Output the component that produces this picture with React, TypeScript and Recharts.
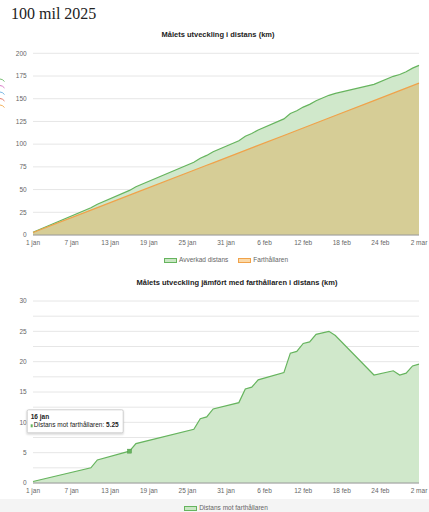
import React from 'react';
import { AreaChart, Area, XAxis, YAxis, CartesianGrid, Legend, Tooltip } from 'recharts';

// ---- data ----
const days = [0, 9, 10, 15, 16, 25, 26, 27, 28, 32, 33, 34, 35, 39, 40, 41, 42, 43, 44, 46, 47, 53, 56, 57, 58, 59, 60];
const dates = ['1 jan', '10 jan', '11 jan', '16 jan', '17 jan', '26 jan', '27 jan', '28 jan', '29 jan', '2 feb', '3 feb', '4 feb', '5 feb', '9 feb', '10 feb', '11 feb', '12 feb', '13 feb', '14 feb', '16 feb', '17 feb', '23 feb', '26 feb', '27 feb', '28 feb', '1 mar', '2 mar'];
const avverkad = [2.99, 29.9, 33.94, 49.09, 53.08, 80.08, 84.57, 87.61, 91.65, 103.66, 108.65, 111.69, 115.63, 127.79, 133.73, 136.77, 140.81, 143.8, 147.79, 153.77, 155.81, 165.75, 174.66, 176.7, 179.74, 183.68, 186.72];
const farthallaren = [2.74, 27.4, 30.14, 43.84, 46.58, 71.23, 73.97, 76.71, 79.45, 90.41, 93.15, 95.89, 98.63, 109.59, 112.33, 115.07, 117.81, 120.55, 123.29, 128.77, 131.51, 147.95, 156.16, 158.9, 161.64, 164.38, 167.12];
const distansMot = [0.25, 2.5, 3.8, 5.25, 6.5, 8.85, 10.6, 10.9, 12.2, 13.25, 15.5, 15.8, 17.0, 18.2, 21.4, 21.7, 23.0, 23.25, 24.5, 25.0, 24.3, 17.8, 18.5, 17.8, 18.1, 19.3, 19.6];

const tickDays = [0, 6, 12, 18, 24, 30, 36, 42, 48, 54, 60];
const tickLabels = ['1 jan', '7 jan', '13 jan', '19 jan', '25 jan', '31 jan', '6 feb', '12 feb', '18 feb', '24 feb', '2 mar'];
const topYTicks = [0, 25, 50, 75, 100, 125, 150, 175, 200];
const bottomYTicks = [0, 2.5, 5, 7.5, 10, 12.5, 15, 17.5, 20, 22.5, 25, 27.5, 30];
const tooltipIndex = 3;

const topData = days.map((d, i) => ({ day: d, date: dates[i], avverkad: avverkad[i], farthallaren: farthallaren[i] }));
const bottomData = days.map((d, i) => ({ day: d, date: dates[i], diff: distansMot[i] }));

// ---- styles ----
const FONT = '"Liberation Sans", Arial, Helvetica, sans-serif';
const GREEN = '#66b45e';
const GREEN_FILL = '#d0e8cb';
const ORANGE = '#f0a24a';
const ORANGE_FILL = '#ddac57';
const TICK = { fontSize: 6.5, fill: '#666', fontFamily: FONT };
const swatch: Record<string, string> = {
  'Avverkad distans': '#c9e6c3',
  'Farthållaren': '#fbd9a8',
  'Distans mot farthållaren': '#c9e6c3',
};

const fmtDay = (v: number) => {
  const i = tickDays.indexOf(v);
  return i >= 0 ? tickLabels[i] : '';
};

const renderLegend = (props: any) => {
  const payload = props.payload || [];
  return (
    <div
      style={{
        height: 20,
        boxSizing: 'border-box',
        paddingTop: 2,
        paddingLeft: 33,
        display: 'flex',
        justifyContent: 'center',
        alignItems: 'center',
        fontFamily: FONT,
        fontSize: 6.5,
        color: '#666',
        lineHeight: '8px',
      }}
    >
      {payload.map((e: any, i: number) => (
        <div key={i} style={{ display: 'flex', alignItems: 'center', marginLeft: i ? 10 : 0 }}>
          <span
            style={{
              display: 'inline-block',
              width: 13,
              height: 5,
              boxSizing: 'border-box',
              background: swatch[e.value] || '#eee',
              border: `1px solid ${e.color}`,
              marginRight: 2,
            }}
          />
          <span>{e.value}</span>
        </div>
      ))}
    </div>
  );
};

const TooltipBox = (props: any) => {
  const { active, payload } = props;
  if (!active || !payload || !payload.length) return null;
  const p = payload[0];
  return (
    <div
      style={{
        background: '#fff',
        border: '1px solid #d0d0d0',
        borderRadius: 2,
        boxShadow: '0 1px 2px rgba(0,0,0,0.12)',
        padding: '3px 4px 3px 3px',
        fontFamily: FONT,
        fontSize: 6.5,
        lineHeight: '8px',
        color: '#222',
        whiteSpace: 'nowrap',
        width: 97,
        boxSizing: 'border-box',
      }}
    >
      <div style={{ fontWeight: 'bold' }}>{p.payload.date}</div>
      <div style={{ display: 'flex', alignItems: 'center' }}>
        <span style={{ display: 'inline-block', width: 3, height: 3, background: GREEN, marginRight: 1 }} />
        <span>
          {p.name}: <b>{p.value}</b>
        </span>
      </div>
    </div>
  );
};

const ActiveSquare = (props: any) => {
  const { cx, cy } = props;
  if (cx == null || cy == null) return null;
  return <rect x={cx - 2} y={cy - 2} width={4} height={4} fill={GREEN} stroke="#4f9a48" strokeWidth={0.5} />;
};

const titleStyle: React.CSSProperties = {
  position: 'absolute',
  width: 300,
  textAlign: 'center',
  fontFamily: FONT,
  fontWeight: 'bold',
  fontSize: 7.5,
  lineHeight: '7.5px',
  color: '#222',
  whiteSpace: 'nowrap',
};

export default function App() {
  return (
    <div style={{ position: 'absolute', left: 0, top: 0, width: 429, height: 512, overflow: 'hidden', background: '#fff' }}>
      <div style={{ position: 'absolute', left: 0, top: 499, width: 429, height: 13, background: '#f4f4f4' }} />
      <div
        style={{
          position: 'absolute',
          left: 11,
          top: 6,
          fontFamily: '"Liberation Serif", "Times New Roman", serif',
          fontSize: 16,
          lineHeight: '16px',
          color: '#222',
          whiteSpace: 'nowrap',
        }}
      >
        100 mil 2025
      </div>
      <svg style={{ position: 'absolute', left: 0, top: 76 }} width={6} height={34}>
        <path d="M0 3 Q2.5 3 4.5 5.5" stroke="#6ab865" strokeWidth={0.9} fill="none" />
        <path d="M0 9.5 Q2.5 9.5 4.5 12" stroke="#d66fc2" strokeWidth={0.9} fill="none" />
        <path d="M0 16 Q2.5 16 4.5 18.5" stroke="#6aaee0" strokeWidth={0.9} fill="none" />
        <path d="M0 22.5 Q2.5 22.5 4.5 25" stroke="#e06a5a" strokeWidth={0.9} fill="none" />
        <path d="M0 29 Q2.5 29 4.5 31.5" stroke="#f0a84a" strokeWidth={0.9} fill="none" />
      </svg>

      <div style={{ ...titleStyle, left: 68, top: 30.5 }}>Målets utveckling i distans (km)</div>
      <div style={{ position: 'absolute', left: 0, top: 40 }}>
        <AreaChart width={429} height={229} data={topData} margin={{ top: 13.3, right: 10, left: 0, bottom: 0 }}>
          <CartesianGrid vertical={false} stroke="#e6e6e6" />
          <XAxis
            dataKey="day"
            type="number"
            domain={[0, 60]}
            ticks={tickDays}
            interval={0}
            tickFormatter={fmtDay}
            axisLine={{ stroke: '#9a9a9a' }}
            tickLine={false}
            tickSize={4}
            tickMargin={1.5}
            height={14}
            tick={TICK}
          />
          <YAxis
            type="number"
            domain={[0, 200]}
            ticks={topYTicks}
            interval={0}
            axisLine={false}
            tickLine={false}
            tickSize={4}
            tickMargin={2.3}
            width={33}
            tick={TICK}
          />
          <Legend verticalAlign="bottom" content={renderLegend} />
          <Area
            type="linear"
            dataKey="avverkad"
            name="Avverkad distans"
            stroke={GREEN}
            strokeWidth={1.2}
            fill={GREEN_FILL}
            fillOpacity={1}
            dot={false}
            activeDot={false}
            isAnimationActive={false}
          />
          <Area
            type="linear"
            dataKey="farthallaren"
            name="Farthållaren"
            stroke={ORANGE}
            strokeWidth={1.2}
            fill={ORANGE_FILL}
            fillOpacity={0.45}
            dot={false}
            activeDot={false}
            isAnimationActive={false}
          />
        </AreaChart>
      </div>

      <div style={{ ...titleStyle, left: 87, top: 278.7 }}>Målets utveckling jämfört med farthållaren i distans (km)</div>
      <div style={{ position: 'absolute', left: 0, top: 290 }}>
        <AreaChart width={429} height={227} data={bottomData} margin={{ top: 11, right: 10, left: 0, bottom: 0 }}>
          <CartesianGrid vertical={false} stroke="#e6e6e6" />
          <XAxis
            dataKey="day"
            type="number"
            domain={[0, 60]}
            ticks={tickDays}
            interval={0}
            tickFormatter={fmtDay}
            axisLine={{ stroke: '#9a9a9a' }}
            tickLine={false}
            tickSize={4}
            tickMargin={1.5}
            height={14}
            tick={TICK}
          />
          <YAxis
            type="number"
            domain={[0, 30]}
            ticks={bottomYTicks}
            interval={0}
            tickFormatter={(v: number) => (v % 5 === 0 ? String(v) : '')}
            axisLine={false}
            tickLine={false}
            tickSize={4}
            tickMargin={2.3}
            width={33}
            tick={TICK}
          />
          <Tooltip
            defaultIndex={tooltipIndex}
            cursor={false}
            position={{ x: 26.7, y: 119.3 }}
            content={<TooltipBox />}
            isAnimationActive={false}
            wrapperStyle={{ outline: 'none' }}
          />
          <Legend verticalAlign="bottom" content={renderLegend} />
          <Area
            type="linear"
            dataKey="diff"
            name="Distans mot farthållaren"
            stroke={GREEN}
            strokeWidth={1.2}
            fill={GREEN_FILL}
            fillOpacity={1}
            dot={false}
            activeDot={<ActiveSquare />}
            isAnimationActive={false}
          />
        </AreaChart>
      </div>
    </div>
  );
}
